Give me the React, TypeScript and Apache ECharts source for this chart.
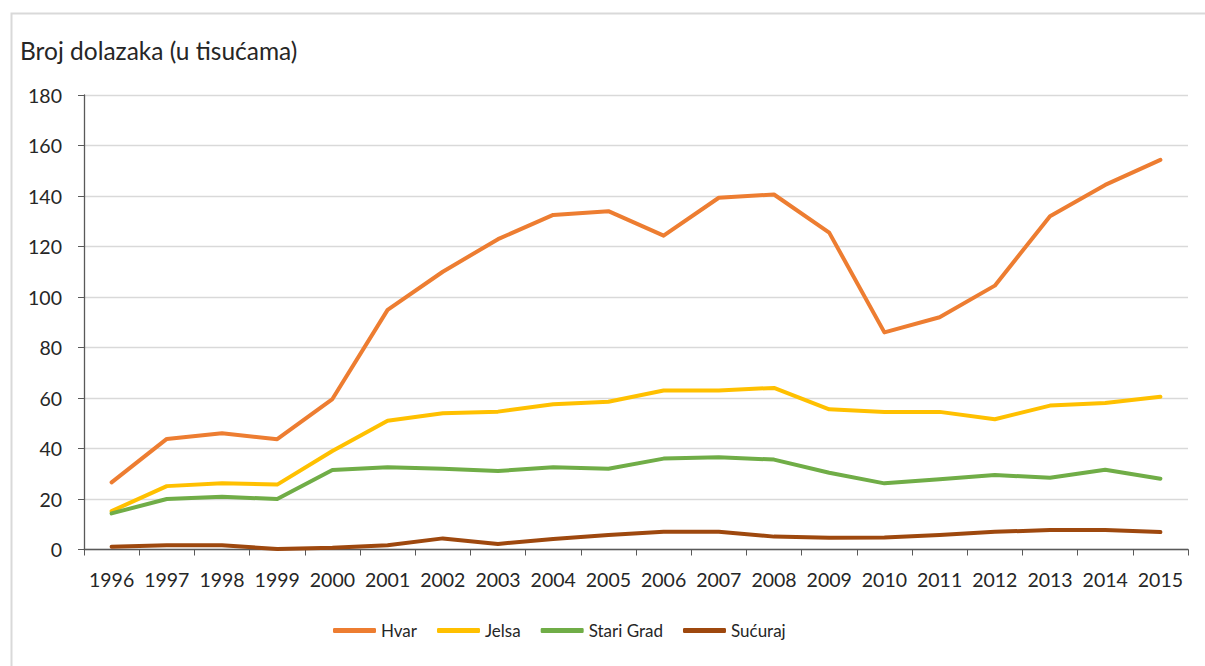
import React, { useEffect, useRef } from "react";
import * as echarts from "echarts";

const years = ["1996","1997","1998","1999","2000","2001","2002","2003","2004","2005","2006","2007","2008","2009","2010","2011","2012","2013","2014","2015"];
const hvar = [26.6, 43.8, 46.0, 43.7, 59.6, 94.9, 110.0, 122.9, 132.5, 134.0, 124.3, 139.3, 140.6, 125.5, 86.0, 92.0, 104.5, 132.0, 144.4, 154.3];
const jelsa = [15.2, 25.1, 26.2, 25.7, 39.0, 51.0, 54.0, 54.6, 57.5, 58.5, 63.0, 63.0, 64.0, 55.5, 54.5, 54.5, 51.6, 57.0, 58.0, 60.5];
const stariGrad = [14.3, 20.0, 20.9, 20.0, 31.5, 32.6, 32.0, 31.1, 32.6, 32.0, 36.0, 36.5, 35.6, 30.4, 26.2, 27.8, 29.5, 28.4, 31.6, 28.0];
const sucuraj = [1.1, 1.7, 1.7, 0.2, 0.7, 1.7, 4.4, 2.2, 4.2, 5.7, 7.0, 7.0, 5.1, 4.7, 4.8, 5.7, 7.0, 7.7, 7.7, 6.9];
const yTicks = { min: 0, max: 180, interval: 20 };
const title = "Broj dolazaka (u tisućama)";

const seriesDefs = [
  { name: "Hvar", data: hvar, color: "#ED7D31" },
  { name: "Jelsa", data: jelsa, color: "#FFC000" },
  { name: "Stari Grad", data: stariGrad, color: "#70AD47" },
  { name: "Sućuraj", data: sucuraj, color: "#9E480E" },
];

const FONT = "Lato, 'Open Sans', sans-serif";

export default function App() {
  const ref = useRef<HTMLDivElement>(null);
  useEffect(() => {
    if (!ref.current) return;
    const chart = echarts.init(ref.current, null, { renderer: "svg" });
    chart.setOption({
      animation: false,
      backgroundColor: "#ffffff",
      textStyle: { fontFamily: FONT },
      graphic: [
        {
          type: "rect",
          left: 9,
          top: 11,
          shape: { width: 1400, height: 900 },
          style: { fill: "none", stroke: "#d9d9d9", lineWidth: 2 },
          silent: true,
          z: -10,
        },
        {
          type: "text",
          left: 20,
          top: 38,
          style: { text: title, fontSize: 24.5, fill: "#262626", fontFamily: FONT },
        },
      ],
      grid: { left: 84, right: 17, top: 95, bottom: 116.5, containLabel: false },
      legend: {
        bottom: 22,
        left: 328,
        itemWidth: 43,
        itemHeight: 5,
        itemGap: 20,
        icon: "roundRect",
        textStyle: { fontSize: 17, color: "#262626", fontFamily: FONT },
        data: seriesDefs.map((s) => s.name),
      },
      xAxis: {
        type: "category",
        data: years,
        boundaryGap: true,
        axisLine: { lineStyle: { color: "#595959", width: 1.3 } },
        axisTick: { show: true, length: 6, interval: 0, lineStyle: { color: "#595959" } },
        axisLabel: { interval: 0, fontSize: 19.5, color: "#262626", margin: 20, fontFamily: FONT },
        splitLine: { show: false },
      },
      yAxis: {
        type: "value",
        min: yTicks.min,
        max: yTicks.max,
        interval: yTicks.interval,
        axisLine: { show: true, lineStyle: { color: "#595959", width: 1.3 } },
        axisTick: { show: true, length: 6, lineStyle: { color: "#595959" } },
        axisLabel: { fontSize: 19.5, color: "#262626", margin: 22, fontFamily: FONT },
        splitLine: { show: true, lineStyle: { color: "#d9d9d9", width: 1.3 } },
      },
      series: seriesDefs.map((s) => ({
        name: s.name,
        type: "line",
        data: s.data,
        color: s.color,
        showSymbol: false,
        symbol: "none",
        lineStyle: { width: 4, color: s.color, cap: "round", join: "round" },
        itemStyle: { color: s.color },
      })),
    });
    return () => chart.dispose();
  }, []);
  return (
    <div
      ref={ref}
      style={{ position: "absolute", left: 0, top: 0, width: 1205, height: 666 }}
    />
  );
}
